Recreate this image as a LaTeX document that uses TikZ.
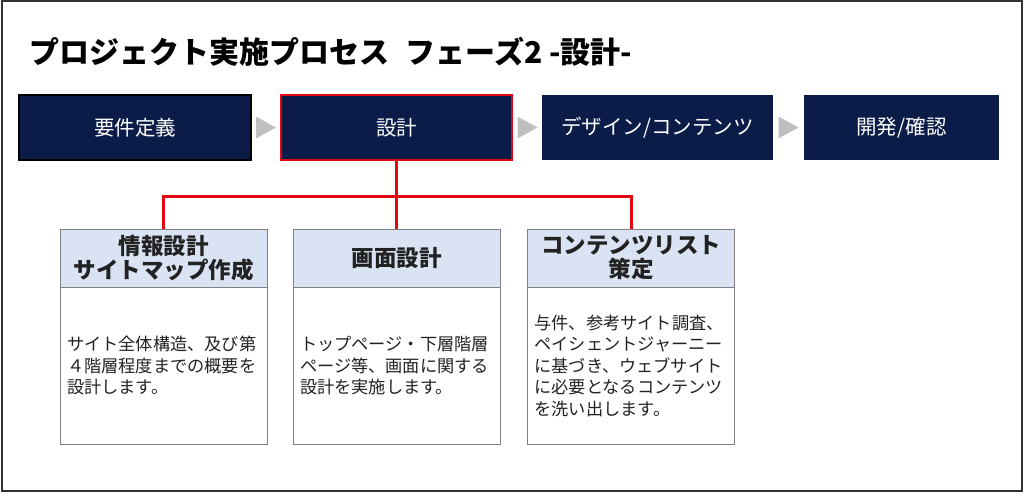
\documentclass[tikz,border=0pt]{standalone}
\usepackage{fontspec}
\setmainfont{Noto Sans CJK JP}
\usetikzlibrary{positioning,calc}
\definecolor{navy}{HTML}{0B1C48}
\definecolor{headblue}{HTML}{DAE3F3}
\definecolor{linkred}{HTML}{E30613}
\definecolor{trigray}{HTML}{BFBFBF}
\definecolor{inkgray}{HTML}{222222}
\tikzset{
  phase/.style = {fill = navy, text = white, minimum height = 65pt, inner sep = 0pt,
    font = \fontsize{20.5}{24}\selectfont},
  cardhead/.style = {draw = gray, fill = headblue, minimum width = 207pt, minimum height = 58pt,
    inner sep = 0pt, align = center, text = inkgray, font = \bfseries\fontsize{22.5}{24}\selectfont},
  cardbody/.style = {draw = gray, fill = white, minimum width = 207pt, minimum height = 157pt,
    inner sep = 0pt, text width = 193pt, align = left, text = inkgray,
    font = \fontsize{17.2}{21.5}\selectfont},
  link/.style = {draw = linkred, line width = 3pt},
  tri/.style = {fill = trigray}
}
\begin{document}
\begin{tikzpicture}[x = 1pt, y = -1pt]
  \useasboundingbox (0, 0) rectangle (1024, 496);
  \draw[line width = 2pt, black!80] (1.5, 1) rectangle (1022, 490.5);
  \node[anchor = west, text = black, font = \bfseries\fontsize{30}{32}\selectfont] (title) at (26, 52)
    {プロジェクト実施プロセス\hspace{16pt}フェーズ2 -設計-};

  \node[phase, minimum width = 232pt, draw = black, line width = 2pt] (b1) at (135, 127.5) {要件定義};
  \node[phase, minimum width = 231pt, draw = linkred, line width = 2.5pt] (b2) at (396.5, 127.5) {設計};
  \node[phase, minimum width = 231pt] (b3) at (657.5, 127.5) {デザイン/コンテンツ};
  \node[phase, minimum width = 195pt] (b4) at (901.5, 127.5) {開発/確認};
  \foreach \a/\b in {b1/b2, b2/b3, b3/b4}
    \fill[tri] ($(\a.east)!.5!(\b.west) + (-10, -11)$) -- ++(20, 11) -- ++(-20, 11) -- cycle;

  \node[cardhead] (h1) at (163.5, 258) {情報設計\\サイトマップ作成};
  \node[cardhead] (h2) at (396.5, 258) {画面設計};
  \node[cardhead] (h3) at (631, 258) {コンテンツリスト\\策定};
  \node[cardbody, below = 0pt of h1] (d1) {サイト全体構造、及び第\\４階層程度までの概要を\\設計します。};
  \node[cardbody, below = 0pt of h2] (d2) {トップページ・下層階層\\ページ等、画面に関する\\設計を実施します。};
  \node[cardbody, below = 0pt of h3] (d3) {与件、参考サイト調査、\\ペイシェントジャーニー\\に基づき、ウェブサイト\\に必要となるコンテンツ\\を洗い出します。};

  \draw[link] (b2.south) -- (h2.north);
  \draw[link] (b2.south) -- ++(0, 35) -| (h1.north);
  \draw[link] (b2.south) -- ++(0, 35) -| (h3.north);
\end{tikzpicture}
\end{document}
